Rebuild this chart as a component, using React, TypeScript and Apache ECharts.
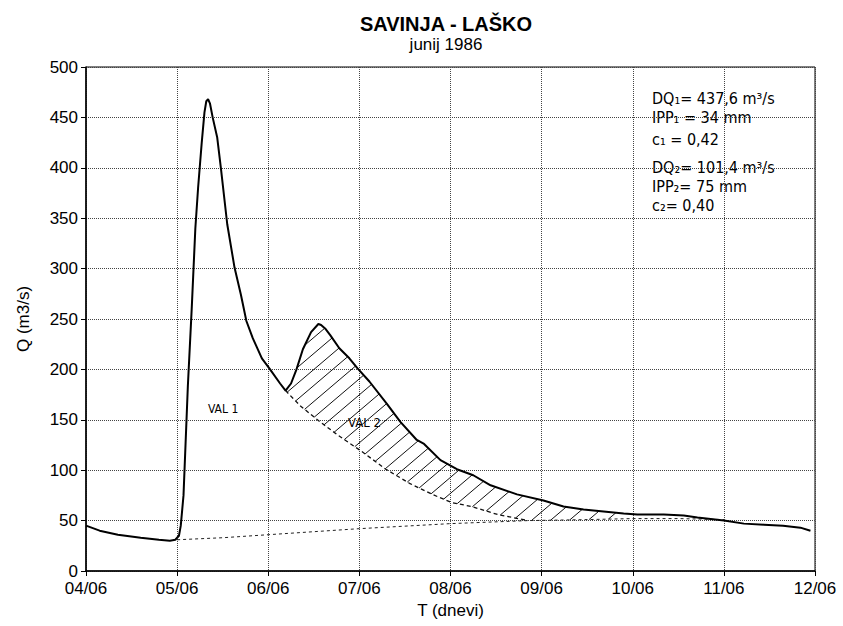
import React, { useEffect, useRef } from "react";
import * as echarts from "echarts";

// ---- data ----
const dayLabels = ["04/06", "05/06", "06/06", "07/06", "08/06", "09/06", "10/06", "11/06", "12/06"];

// discharge hydrograph Q (m3/s), x = days since 04/06 00:00
const hydrograph: [number, number][] = [
  [0.0, 45], [0.15, 40], [0.35, 36], [0.6, 33], [0.8, 31], [0.92, 30], [0.98, 31],
  [1.02, 35], [1.04, 45], [1.07, 75], [1.118, 184], [1.16, 260], [1.2, 340], [1.23, 380],
  [1.27, 425], [1.3, 455], [1.32, 466], [1.34, 468], [1.36, 464], [1.39, 450], [1.44, 430],
  [1.48, 400], [1.55, 344], [1.63, 301], [1.7, 274], [1.76, 248], [1.83, 231], [1.93, 211],
  [2.02, 200], [2.13, 186], [2.19, 179], [2.25, 186], [2.31, 200], [2.38, 220], [2.47, 237],
  [2.55, 245], [2.58, 244], [2.63, 240], [2.68, 234], [2.78, 221], [2.89, 211], [2.98, 201],
  [3.11, 188], [3.3, 166], [3.45, 148], [3.63, 130], [3.71, 126], [3.89, 110], [4.07, 101],
  [4.25, 95], [4.44, 85], [4.73, 76], [5.02, 70], [5.24, 64], [5.46, 61], [5.68, 59],
  [5.9, 57], [6.05, 56], [6.34, 56], [6.56, 55], [6.71, 53], [7.0, 50], [7.22, 47],
  [7.44, 46], [7.65, 45], [7.84, 43], [7.95, 40],
];

// recession separating the second wave (dashed)
const wave2Separation: [number, number][] = [
  [2.19, 179], [2.35, 164], [2.54, 150], [2.76, 135], [3.02, 119], [3.29, 101],
  [3.55, 87], [3.8, 76], [4.01, 68], [4.23, 64], [4.52, 56], [4.85, 50],
];

// base flow separation (dashed)
const baseflow: [number, number][] = [
  [1.0, 31], [1.5, 33], [2.0, 36], [3.0, 42], [4.0, 47], [4.85, 50], [5.5, 51],
  [6.0, 52], [6.5, 52], [7.0, 51],
];

const HATCH_START = 2.19;
const HATCH_END = 5.9;

const notes = [
  "DQ₁= 437,6 m³/s",
  "IPP₁ = 34 mm",
  "c₁ = 0,42",
  "DQ₂= 101,4 m³/s",
  "IPP₂= 75 mm",
  "c₂= 0,40",
];
const noteTops = [90, 109, 131, 159, 178, 197];

const waveLabels = ["VAL 1", "VAL 2"];

// ---- helpers ----
function interp(pts: [number, number][], x: number): number {
  for (let i = 0; i < pts.length - 1; i++) {
    const a = pts[i], b = pts[i + 1];
    if (x >= a[0] && x <= b[0]) {
      const t = (x - a[0]) / (b[0] - a[0] || 1);
      return a[1] + t * (b[1] - a[1]);
    }
  }
  return pts[pts.length - 1][1];
}

function slice(pts: [number, number][], x0: number, x1: number): [number, number][] {
  const out: [number, number][] = [[x0, interp(pts, x0)]];
  pts.forEach((p) => {
    if (p[0] > x0 && p[0] < x1) out.push(p);
  });
  out.push([x1, interp(pts, x1)]);
  return out;
}

const sepEnd = wave2Separation[wave2Separation.length - 1][0];
const hatchLowerAll: [number, number][] = [
  ...wave2Separation,
  ...baseflow.filter((p) => p[0] > sepEnd),
];
const hatchPolygon: [number, number][] = [
  ...slice(hydrograph, HATCH_START, HATCH_END),
  ...slice(hatchLowerAll, HATCH_START, HATCH_END).reverse(),
];

const FONT = '"Liberation Sans", Arial, Helvetica, sans-serif';
const HAND = '"Liberation Sans Narrow", "DejaVu Sans Condensed", "Liberation Sans", sans-serif';

export default function App() {
  const ref = useRef<HTMLDivElement>(null);

  useEffect(() => {
    if (!ref.current) return;
    const chart = echarts.init(ref.current, undefined, { renderer: "svg" });

    const renderHatch = (_params: any, api: any) => {
      const pix = hatchPolygon.map((p) => api.coord(p) as number[]);
      const k = 0.85;
      const step = 16;
      const f = (p: number[]) => k * p[0] + p[1];
      let cmin = Infinity, cmax = -Infinity;
      pix.forEach((p) => {
        cmin = Math.min(cmin, f(p));
        cmax = Math.max(cmax, f(p));
      });
      const children: any[] = [];
      for (let c = cmin + step * 0.6; c < cmax; c += step) {
        const hits: number[][] = [];
        for (let i = 0; i < pix.length; i++) {
          const a = pix[i], b = pix[(i + 1) % pix.length];
          const fa = f(a) - c, fb = f(b) - c;
          if ((fa < 0) !== (fb < 0)) {
            const t = fa / (fa - fb);
            hits.push([a[0] + t * (b[0] - a[0]), a[1] + t * (b[1] - a[1])]);
          }
        }
        hits.sort((u, v) => u[0] - v[0]);
        for (let j = 0; j + 1 < hits.length; j += 2) {
          children.push({
            type: "line",
            shape: { x1: hits[j][0], y1: hits[j][1], x2: hits[j + 1][0], y2: hits[j + 1][1] },
            style: { stroke: "#111", lineWidth: 1 },
          });
        }
      }
      return { type: "group", children };
    };

    chart.setOption({
      animation: false,
      backgroundColor: "#fff",
      title: {
        text: "SAVINJA - LAŠKO",
        subtext: "junij 1986",
        left: 441,
        top: 9,
        textAlign: "center",
        itemGap: 2,
        textStyle: { fontFamily: FONT, fontSize: 20, fontWeight: "bold", color: "#000" },
        subtextStyle: { fontFamily: FONT, fontSize: 17, color: "#000" },
      },
      grid: {
        left: 86,
        right: 28,
        top: 67,
        bottom: 55,
        show: true,
        borderColor: "#000",
        borderWidth: 1,
        backgroundColor: "transparent",
      },
      xAxis: {
        type: "value",
        min: 0,
        max: 8,
        interval: 1,
        name: "T (dnevi)",
        nameLocation: "middle",
        nameGap: 30,
        nameTextStyle: { fontFamily: FONT, fontSize: 17, color: "#000" },
        axisLine: { show: true, onZero: false, lineStyle: { color: "#000", width: 1.5 } },
        axisTick: { show: true, length: 5, lineStyle: { color: "#000" } },
        axisLabel: {
          fontFamily: FONT,
          fontSize: 17,
          color: "#000",
          margin: 9,
          formatter: (v: number) => dayLabels[Math.round(v)] ?? "",
        },
        splitLine: { show: true, lineStyle: { color: "#444", type: "dotted", width: 1 } },
      },
      yAxis: {
        type: "value",
        min: 0,
        max: 500,
        interval: 50,
        name: "Q (m3/s)",
        nameLocation: "middle",
        nameGap: 54,
        nameTextStyle: { fontFamily: FONT, fontSize: 17, color: "#000" },
        axisLine: { show: true, lineStyle: { color: "#000", width: 1.5 } },
        axisTick: { show: true, length: 5, lineStyle: { color: "#000" } },
        axisLabel: { fontFamily: FONT, fontSize: 17, color: "#000", margin: 8 },
        splitLine: { show: true, lineStyle: { color: "#444", type: "dotted", width: 1 } },
      },
      series: [
        {
          type: "custom",
          name: "hatch",
          coordinateSystem: "cartesian2d",
          silent: true,
          z: 1,
          data: [[HATCH_START, 0]],
          renderItem: renderHatch,
        },
        {
          type: "line",
          name: "baseflow",
          data: baseflow,
          showSymbol: false,
          z: 2,
          lineStyle: { color: "#222", width: 1, type: [3, 3] },
        },
        {
          type: "line",
          name: "wave2",
          data: wave2Separation,
          showSymbol: false,
          z: 2,
          lineStyle: { color: "#111", width: 1.3, type: [4, 3] },
        },
        {
          type: "line",
          name: "Q",
          data: hydrograph,
          showSymbol: false,
          z: 3,
          lineStyle: { color: "#000", width: 2 },
        },
      ],
      graphic: [
        ...notes.map((t, i) => ({
          type: "text",
          left: 652,
          top: noteTops[i],
          silent: true,
          style: { text: t, fontFamily: HAND, fontSize: 16, fill: "#000" },
        })),
        {
          type: "text",
          left: 208,
          top: 403,
          silent: true,
          style: { text: waveLabels[0], fontFamily: HAND, fontSize: 12, fill: "#000" },
        },
        {
          type: "text",
          left: 348,
          top: 416,
          silent: true,
          style: { text: waveLabels[1], fontFamily: HAND, fontSize: 13, fill: "#000" },
        },
      ],
    });

    return () => chart.dispose();
  }, []);

  return (
    <div
      ref={ref}
      style={{ position: "fixed", left: 0, top: 0, width: 843, height: 626, background: "#fff" }}
    />
  );
}
